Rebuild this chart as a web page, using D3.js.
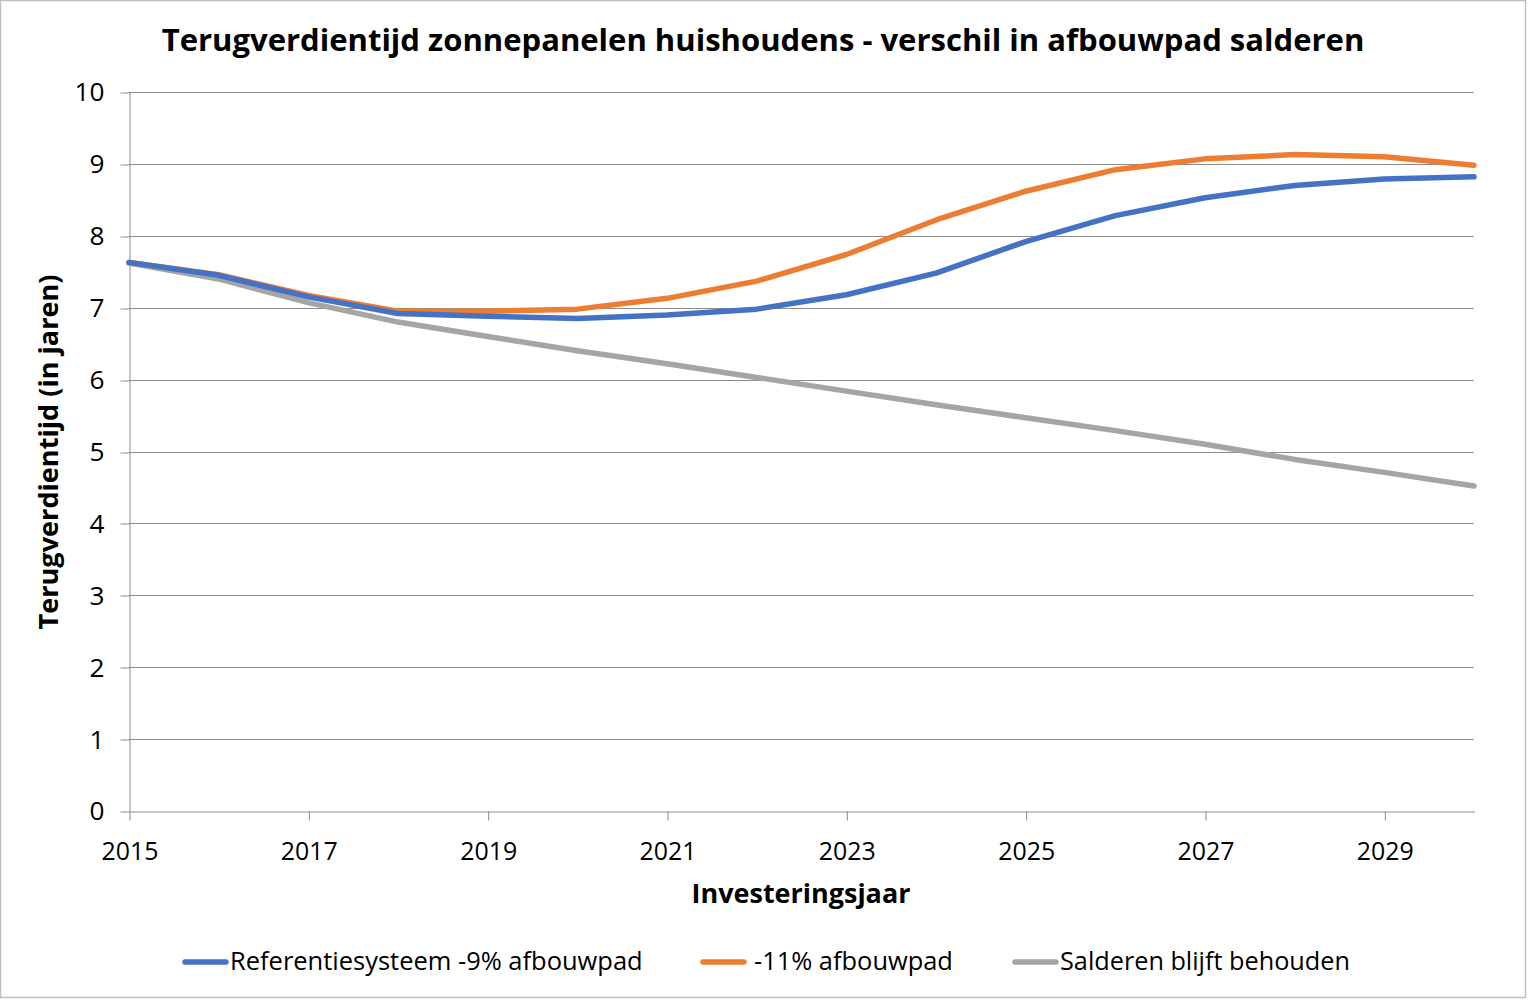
<!DOCTYPE html>
<html><head><meta charset="utf-8">
<script src="https://cdn.jsdelivr.net/npm/d3@7"></script>
<style>body{margin:0;background:#fff;} svg{display:block;font-family:"Open Sans","Noto Sans",sans-serif;}</style>
</head><body>
<script>
const years = [2015,2016,2017,2018,2019,2020,2021,2022,2023,2024,2025,2026,2027,2028,2029,2030];
const referentie = [7.63,7.45,7.15,6.92,6.88,6.85,6.90,6.98,7.18,7.48,7.92,8.28,8.53,8.70,8.79,8.82];
const afbouw11 = [7.63,7.46,7.17,6.95,6.95,6.98,7.13,7.37,7.74,8.22,8.62,8.92,9.07,9.13,9.10,8.98];
const salderen = [7.62,7.40,7.07,6.80,6.60,6.40,6.22,6.03,5.84,5.65,5.47,5.29,5.10,4.89,4.71,4.52];
const seriesNames = ["Referentiesysteem -9% afbouwpad","-11% afbouwpad","Salderen blijft behouden"];
const seriesColors = ["#4472C4","#ED7D31","#A5A5A5"];
const yTicks = [0,1,2,3,4,5,6,7,8,9,10];
const xTicks = [2015,2017,2019,2021,2023,2025,2027,2029];
const titleText = "Terugverdientijd zonnepanelen huishoudens - verschil in afbouwpad salderen";
const xTitle = "Investeringsjaar";
const yTitle = "Terugverdientijd (in jaren)";

const W=1528,H=1000;
const svg=d3.select("body").append("svg").attr("width",W).attr("height",H);
svg.append("rect").attr("x",0.5).attr("y",0.5).attr("width",W-3).attr("height",H-3)
  .attr("fill","#fff").attr("stroke","#BFBFBF").attr("stroke-width",1.5);

const x=d3.scaleLinear().domain([2015,2030]).range([129,1474]);
const y=d3.scaleLinear().domain([0,10]).range([811,92]);

function fit(t, w){
  const n=t.node(); const fs=parseFloat(t.attr("font-size"));
  const cw=n.getComputedTextLength(); t.attr("font-size", fs*w/cw);
}

// gridlines
svg.append("g").selectAll("line").data(yTicks.filter(d=>d>0)).join("line")
  .attr("x1",x(2015)).attr("x2",x(2030)).attr("y1",d=>Math.round(y(d))+0.5).attr("y2",d=>Math.round(y(d))+0.5)
  .attr("stroke","#8C8C8C").attr("stroke-width",1);

// y axis
const yAxis=svg.append("g").attr("transform",`translate(${x(2015)+0.5},0.5)`)
  .call(d3.axisLeft(y).tickValues(yTicks).tickSize(9).tickPadding(16).tickSizeOuter(0));
yAxis.select(".domain").attr("stroke","#8C8C8C");
yAxis.selectAll(".tick line").attr("stroke","#8C8C8C");
yAxis.selectAll(".tick line").attr("transform",d=>`translate(0,${Math.round(y(d))-y(d)})`);
yAxis.selectAll("text").attr("font-size",22.5).attr("fill","#000").attr("font-family","'Open Sans',sans-serif");

// x axis
const xAxis=svg.append("g").attr("transform",`translate(0.5,${Math.round(y(0))+0.5})`)
  .call(d3.axisBottom(x).tickValues(xTicks).tickFormat(d3.format("d")).tickSize(9).tickPadding(22).tickSizeOuter(0));
xAxis.select(".domain").attr("stroke","#8C8C8C");
xAxis.selectAll(".tick line").attr("stroke","#8C8C8C");
xAxis.selectAll("text").attr("font-size",22.5).attr("fill","#000").attr("font-family","'Open Sans',sans-serif");
xAxis.selectAll("text").each(function(){fit(d3.select(this),57);});
yAxis.selectAll("text").each(function(d){ if(d===10) fit(d3.select(this),30);});
const yfs=parseFloat(yAxis.selectAll("text").filter(d=>d===10).attr("font-size"));
yAxis.selectAll("text").attr("font-size",yfs);

// lines
const allSeries=[referentie,afbouw11,salderen];
const line=d3.line().x((d,i)=>x(years[i])).y(d=>y(d));
svg.append("g").selectAll("path").data([salderen,afbouw11,referentie]).join("path")
  .attr("d",line).attr("fill","none")
  .attr("stroke",d=>seriesColors[allSeries.indexOf(d)]).attr("stroke-width",5.5)
  .attr("stroke-linejoin","round").attr("stroke-linecap","round");

// titles
const t=svg.append("text").attr("x",763).attr("y",51).attr("text-anchor","middle")
  .attr("font-weight","bold").attr("font-size",30).text(titleText);
fit(t,1203);
const xt=svg.append("text").attr("x",801).attr("y",903).attr("text-anchor","middle")
  .attr("font-weight","bold").attr("font-size",26).text(xTitle);
fit(xt,219);
const yt=svg.append("text").attr("transform","translate(58,452) rotate(-90)").attr("text-anchor","middle")
  .attr("font-weight","bold").attr("font-size",26).text(yTitle);
fit(yt,355);

// legend
const legX=[183,701,1013], legTX=[230,754,1060], legW=[413,199,290];
const lg=svg.append("g");
seriesNames.forEach((n,i)=>{
  lg.append("line").attr("x1",legX[i]+2).attr("x2",legX[i]+43).attr("y1",962).attr("y2",962)
    .attr("stroke",seriesColors[i]).attr("stroke-width",5.5).attr("stroke-linecap","round");
  const tx=lg.append("text").attr("x",legTX[i]).attr("y",970).attr("font-size",24).text(n);
  fit(tx,legW[i]);
});
</script>
</body></html>
